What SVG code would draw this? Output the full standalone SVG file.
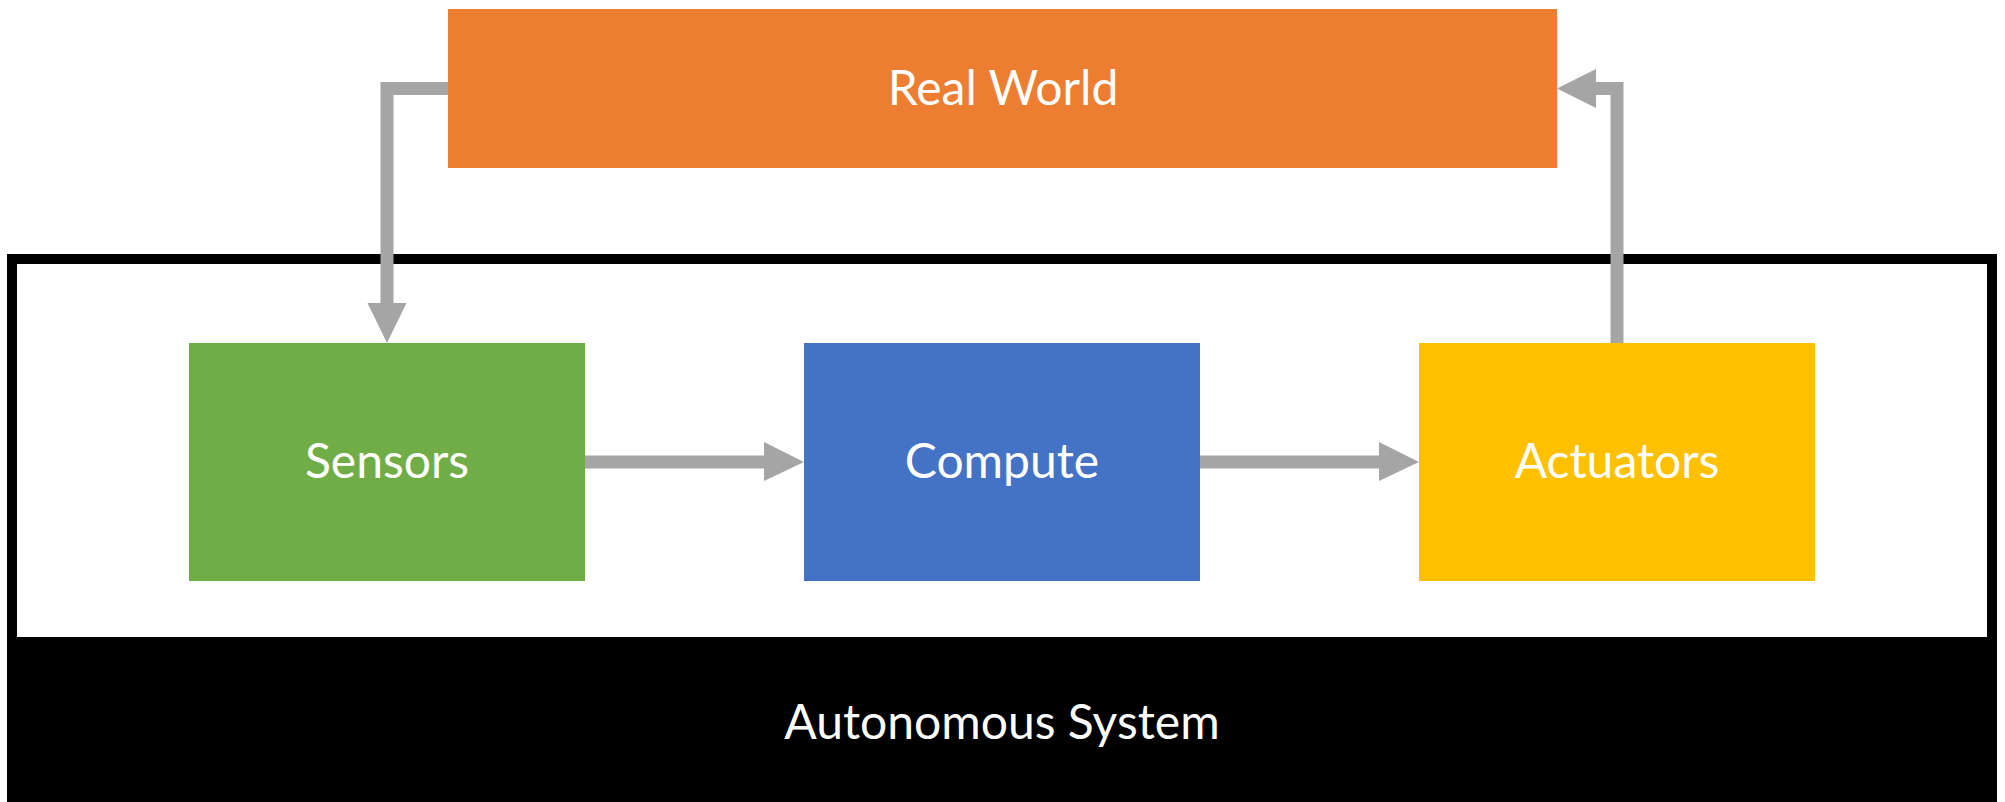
<svg xmlns="http://www.w3.org/2000/svg" width="2005" height="802" viewBox="0 0 2005 802">
  <defs>
    <style>
      .lbl { font-family: Lato, "Open Sans", "Liberation Sans", sans-serif; font-size: 48px; fill: #ffffff; text-anchor: middle; }
      .wire { fill: none; stroke: #a5a5a5; stroke-width: 13; stroke-linejoin: miter; }
      .head { fill: #a5a5a5; }
    </style>
  </defs>
  <rect x="0" y="0" width="2005" height="802" fill="#ffffff"/>

  <!-- system frame with its black caption band -->
  <g id="autonomous-system">
    <rect x="7" y="254" width="1990" height="548" fill="#000000"/>
    <rect x="17" y="264" width="1970" height="373" fill="#ffffff"/>
    <text class="lbl" x="1002" y="739">Autonomous System</text>
  </g>

  <g id="real-world">
    <rect x="448" y="9" width="1109" height="159" fill="#ed7d31"/>
    <text class="lbl" x="1003" y="105">Real World</text>
  </g>

  <g id="sensors">
    <rect x="189" y="343" width="396" height="238" fill="#70ad47"/>
    <text class="lbl" x="387" y="478">Sensors</text>
  </g>

  <g id="compute">
    <rect x="804" y="343" width="396" height="238" fill="#4472c4"/>
    <text class="lbl" x="1002" y="478">Compute</text>
  </g>

  <g id="actuators">
    <rect x="1419" y="343" width="396" height="238" fill="#ffc000"/>
    <text class="lbl" x="1617" y="478">Actuators</text>
  </g>

  <g id="connectors">
    <!-- Real World -> Sensors -->
    <polyline class="wire" points="448,88.5 387,88.5 387,304"/>
    <polygon class="head" points="367.5,303 406.5,303 387,343"/>
    <!-- Sensors -> Compute -->
    <line class="wire" x1="585" y1="462" x2="765" y2="462"/>
    <polygon class="head" points="764,442 764,481 804,462"/>
    <!-- Compute -> Actuators -->
    <line class="wire" x1="1200" y1="462" x2="1380" y2="462"/>
    <polygon class="head" points="1379,442 1379,481 1419,462"/>
    <!-- Actuators -> Real World -->
    <polyline class="wire" points="1617,343 1617,88.5 1595,88.5"/>
    <polygon class="head" points="1596,69 1596,108 1557,88.5"/>
  </g>
</svg>
